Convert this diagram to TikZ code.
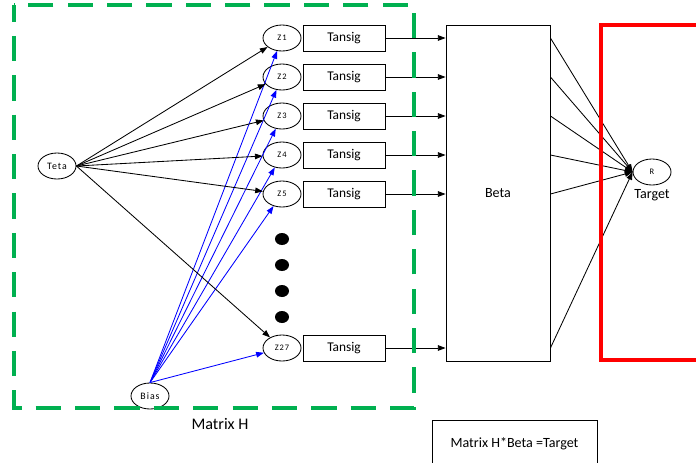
\documentclass[tikz,border=0pt]{standalone}
\usepackage{fontspec}
\setmainfont{Carlito}
\newfontfamily\smallfnt[LetterSpace=10]{Carlito}
\usetikzlibrary{shapes.geometric,arrows.meta}

\definecolor{boxgreen}{RGB}{0,176,80}

\begin{document}
\begin{tikzpicture}[x=0.025cm, y=-0.025cm,
    neuron/.style={draw, ellipse, line width=0.6pt, minimum width=0.95cm, minimum height=0.65cm, inner sep=0pt, font=\smallfnt\fontsize{6}{7}\selectfont},
    actbox/.style={draw, rectangle, line width=0.6pt, minimum width=2.05cm, minimum height=0.65cm, font=\fontsize{9.5}{11}\selectfont},
    link/.style={line width=0.6pt, -{Triangle[length=5.5pt,width=4pt]}}]
    \useasboundingbox (0,0) rectangle (696,462);
    % Inputs
    \node[neuron, font=\smallfnt\fontsize{7}{8}\selectfont] (teta) at (57,166) {Teta};
    \node[neuron, font=\smallfnt\fontsize{7}{8}\selectfont] (bias) at (150,396) {Bias};
    % Hidden layer
    \foreach \i/\y in {1/38,2/77,3/116,4/155,5/194,27/348} {
        \node[neuron] (z\i) at (282,\y) {Z\i};
        \node[actbox] (t\i) at (344,\y) {Tansig};
    }
    \foreach \y in {239,265,291,317}
        \fill (282,\y) ellipse (7 and 6);
    % Output weights and target
    \node[draw, line width=0.6pt, minimum width=2.6cm, minimum height=8.4cm, font=\fontsize{10}{12}\selectfont] (beta) at (498,193) {Beta};
    \node[neuron] (r) at (652,172) {R};
    \node[font=\fontsize{10}{12}\selectfont] (target) at (652,195) {Target};
    % Connections
    \foreach \i in {1,2,3,4,5,27} {
        \draw[link] (teta.east) -- (z\i);
        \draw[link, blue] (bias.north) -- (z\i);
        \draw[link] (t\i.east) -- (beta.west |- t\i);
        \draw[link] (beta.east |- t\i) -- (r.west);
    }
    % Matrix H frame
    \draw[boxgreen, line width=2.8pt, dash pattern=on 18pt off 10pt, dash phase=6pt] (14,5) rectangle (414,408);
    \node[font=\fontsize{11.5}{13}\selectfont] (hlabel) at (220,424) {Matrix H};
    % Target frame
    \draw[red, line width=2.8pt] (700,25) -- (601,25) -- (601,360) -- (700,360);
    % Equation
    \node[draw, line width=0.6pt, anchor=north, minimum width=4.12cm, minimum height=1.15cm, font=\fontsize{10}{12}\selectfont] (eq) at (514.5,420) {Matrix H*Beta =Target};
\end{tikzpicture}
\end{document}
